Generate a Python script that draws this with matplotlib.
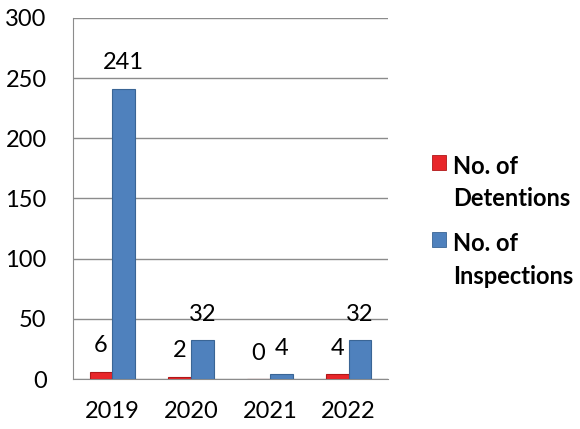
import numpy as np
import matplotlib
matplotlib.use("Agg")
import matplotlib.pyplot as plt
from matplotlib.patches import Rectangle

# Chart data
years = ["2019", "2020", "2021", "2022"]
detentions = [6, 2, 0, 4]
inspections = [241, 32, 4, 32]
series_names = ["No. of\nDetentions", "No. of\nInspections"]

plt.rcParams['font.family'] = ['Lato', 'DejaVu Sans']

W, H = 580, 429
fig = plt.figure(figsize=(W / 100, H / 100), dpi=100)
ax = fig.add_axes([73 / W, 1 - 379 / H, (388 - 73) / W, (379 - 18) / H])

red, blue = "#e8262a", "#4f81bd"
x = np.arange(len(years))
w = 0.29
red_bars = ax.bar(x - w / 2, detentions, w, color=red, edgecolor="#b01818",
                  linewidth=0.8, zorder=3)
blue_bars = ax.bar(x + w / 2, inspections, w, color=blue, edgecolor="#3a6595",
                   linewidth=0.8, zorder=3)

# Value labels above bars
for bars, vals in [(red_bars, detentions), (blue_bars, inspections)]:
    for b, v in zip(bars, vals):
        ax.annotate(str(v), (b.get_x() + b.get_width() / 2, v),
                    xytext=(0, 26), textcoords="offset pixels",
                    ha="center", va="center", fontsize=17, color="black")

ax.set_xlim(-0.5, 3.5)
ax.set_ylim(0, 300)
ax.set_yticks(np.arange(0, 301, 50))
ax.set_xticks(x)
ax.set_xticklabels(years)
ax.tick_params(axis="both", length=0, labelsize=17)
ax.tick_params(axis="y", pad=19)
ax.tick_params(axis="x", pad=16)

ax.grid(axis="y", color="#8c8c8c", linewidth=1.0, zorder=0)
for s in ["top", "right"]:
    ax.spines[s].set_visible(False)
ax.spines["left"].set_color("#8c8c8c")
ax.spines["bottom"].set_color("#8c8c8c")

# Legend drawn by hand so the square sits by the first line
for i, (name, col, edge) in enumerate(zip(series_names, [red, blue],
                                          ["#b01818", "#3a6595"])):
    y0 = 155 + i * 77
    fig.patches.append(Rectangle((432 / W, 1 - (y0 + 15) / H), 14 / W, 15 / H,
                                 transform=fig.transFigure, facecolor=col,
                                 edgecolor=edge, linewidth=0.6))
    first, second = name.split("\n")
    fig.text(453 / W, 1 - (y0 + 12) / H, first, fontsize=17, fontweight="bold",
             va="center", ha="left")
    fig.text(453 / W, 1 - (y0 + 44) / H, second, fontsize=17, fontweight="bold",
             va="center", ha="left")

fig.savefig("out.png", dpi=100)
